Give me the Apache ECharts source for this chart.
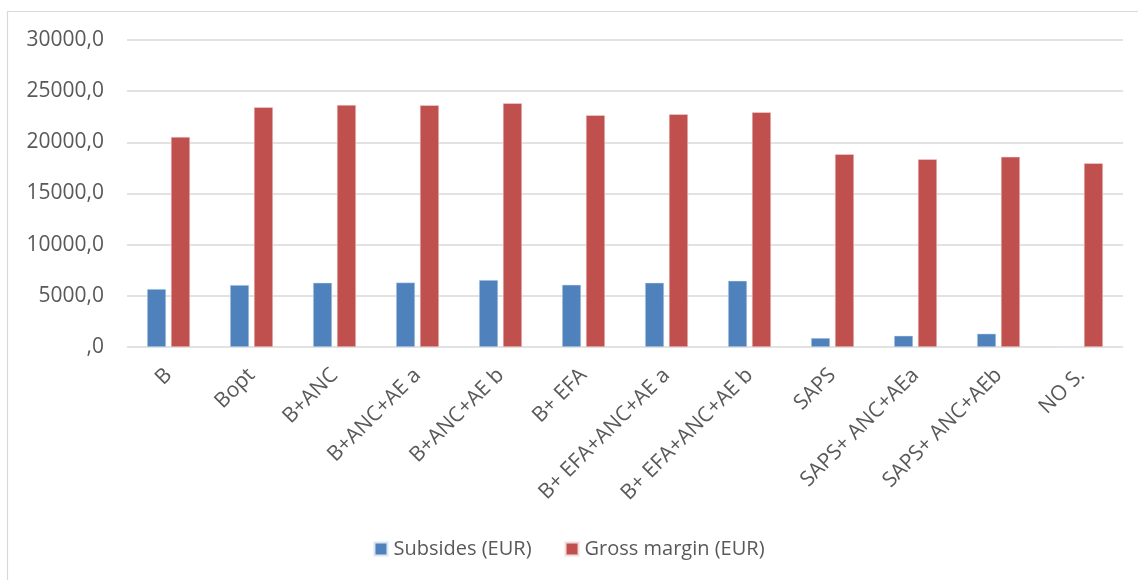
<!DOCTYPE html>
<html>
<head>
<meta charset="utf-8">
<script src="https://cdn.jsdelivr.net/npm/echarts@6/dist/echarts.min.js"></script>
<style>
  html, body { margin: 0; padding: 0; background: #fff; }
  #chart { width: 1138px; height: 580px; }
</style>
</head>
<body>
<div id="chart"></div>
<script>
const categories = ['B', 'Bopt', 'B+ANC', 'B+ANC+AE a', 'B+ANC+AE b', 'B+ EFA',
  'B+ EFA+ANC+AE a', 'B+ EFA+ANC+AE b', 'SAPS', 'SAPS+ ANC+AEa', 'SAPS+ ANC+AEb', 'NO S.'];
const subsides = [5660, 6050, 6280, 6300, 6540, 6080, 6280, 6470, 880, 1100, 1300, 0];
const grossMargin = [20530, 23430, 23650, 23620, 23820, 22650, 22750, 22940, 18840, 18350, 18580, 17960];
const yTicks = [0, 5000, 10000, 15000, 20000, 25000, 30000];

const textColor = '#595959';
const gridColor = '#d9d9d9';
const font = '"Open Sans", sans-serif';

const chart = echarts.init(document.getElementById('chart'));

const option = {
  animation: false,
  textStyle: { fontFamily: font },
  graphic: [
    { type: 'line', shape: { x1: 7, y1: 11.5, x2: 1138, y2: 11.5 }, style: { stroke: gridColor, lineWidth: 1.2 } },
    { type: 'line', shape: { x1: 7.5, y1: 11, x2: 7.5, y2: 580 }, style: { stroke: gridColor, lineWidth: 1.2 } }
  ],
  grid: { left: 127, right: 15, top: 40, bottom: 233, containLabel: false },
  legend: {
    top: 534,
    left: 'center',
    itemWidth: 13,
    itemHeight: 13,
    itemGap: 33,
    icon: 'rect',
    textStyle: { color: textColor, fontSize: 20, fontFamily: font, padding: [0, 0, 0, 1] },
    data: ['Subsides (EUR)', 'Gross margin (EUR)']
  },
  xAxis: {
    type: 'category',
    data: categories,
    axisLine: { show: false },
    axisTick: { show: false },
    axisLabel: { rotate: 45, color: textColor, fontSize: 21, margin: 25, interval: 0 }
  },
  yAxis: {
    type: 'value',
    min: 0,
    max: 30000,
    interval: 5000,
    axisLine: { show: false },
    axisTick: { show: false },
    splitLine: { lineStyle: { color: gridColor, width: 1.5 } },
    axisLabel: {
      color: textColor,
      fontSize: 21,
      margin: 23,
      formatter: v => yTicks.includes(v) ? (v === 0 ? ',0' : v + ',0') : ''
    }
  },
  series: [
    {
      name: 'Subsides (EUR)',
      type: 'bar',
      data: subsides,
      barWidth: 19,
      barGap: '26%',
      itemStyle: { color: '#4f81bd', borderColor: '#dce6f2', borderWidth: 0.5 }
    },
    {
      name: 'Gross margin (EUR)',
      type: 'bar',
      data: grossMargin,
      barWidth: 19,
      barGap: '26%',
      itemStyle: { color: '#c0504d', borderColor: '#f2dcdb', borderWidth: 0.5 }
    }
  ]
};

chart.setOption(option);
</script>
</body>
</html>
